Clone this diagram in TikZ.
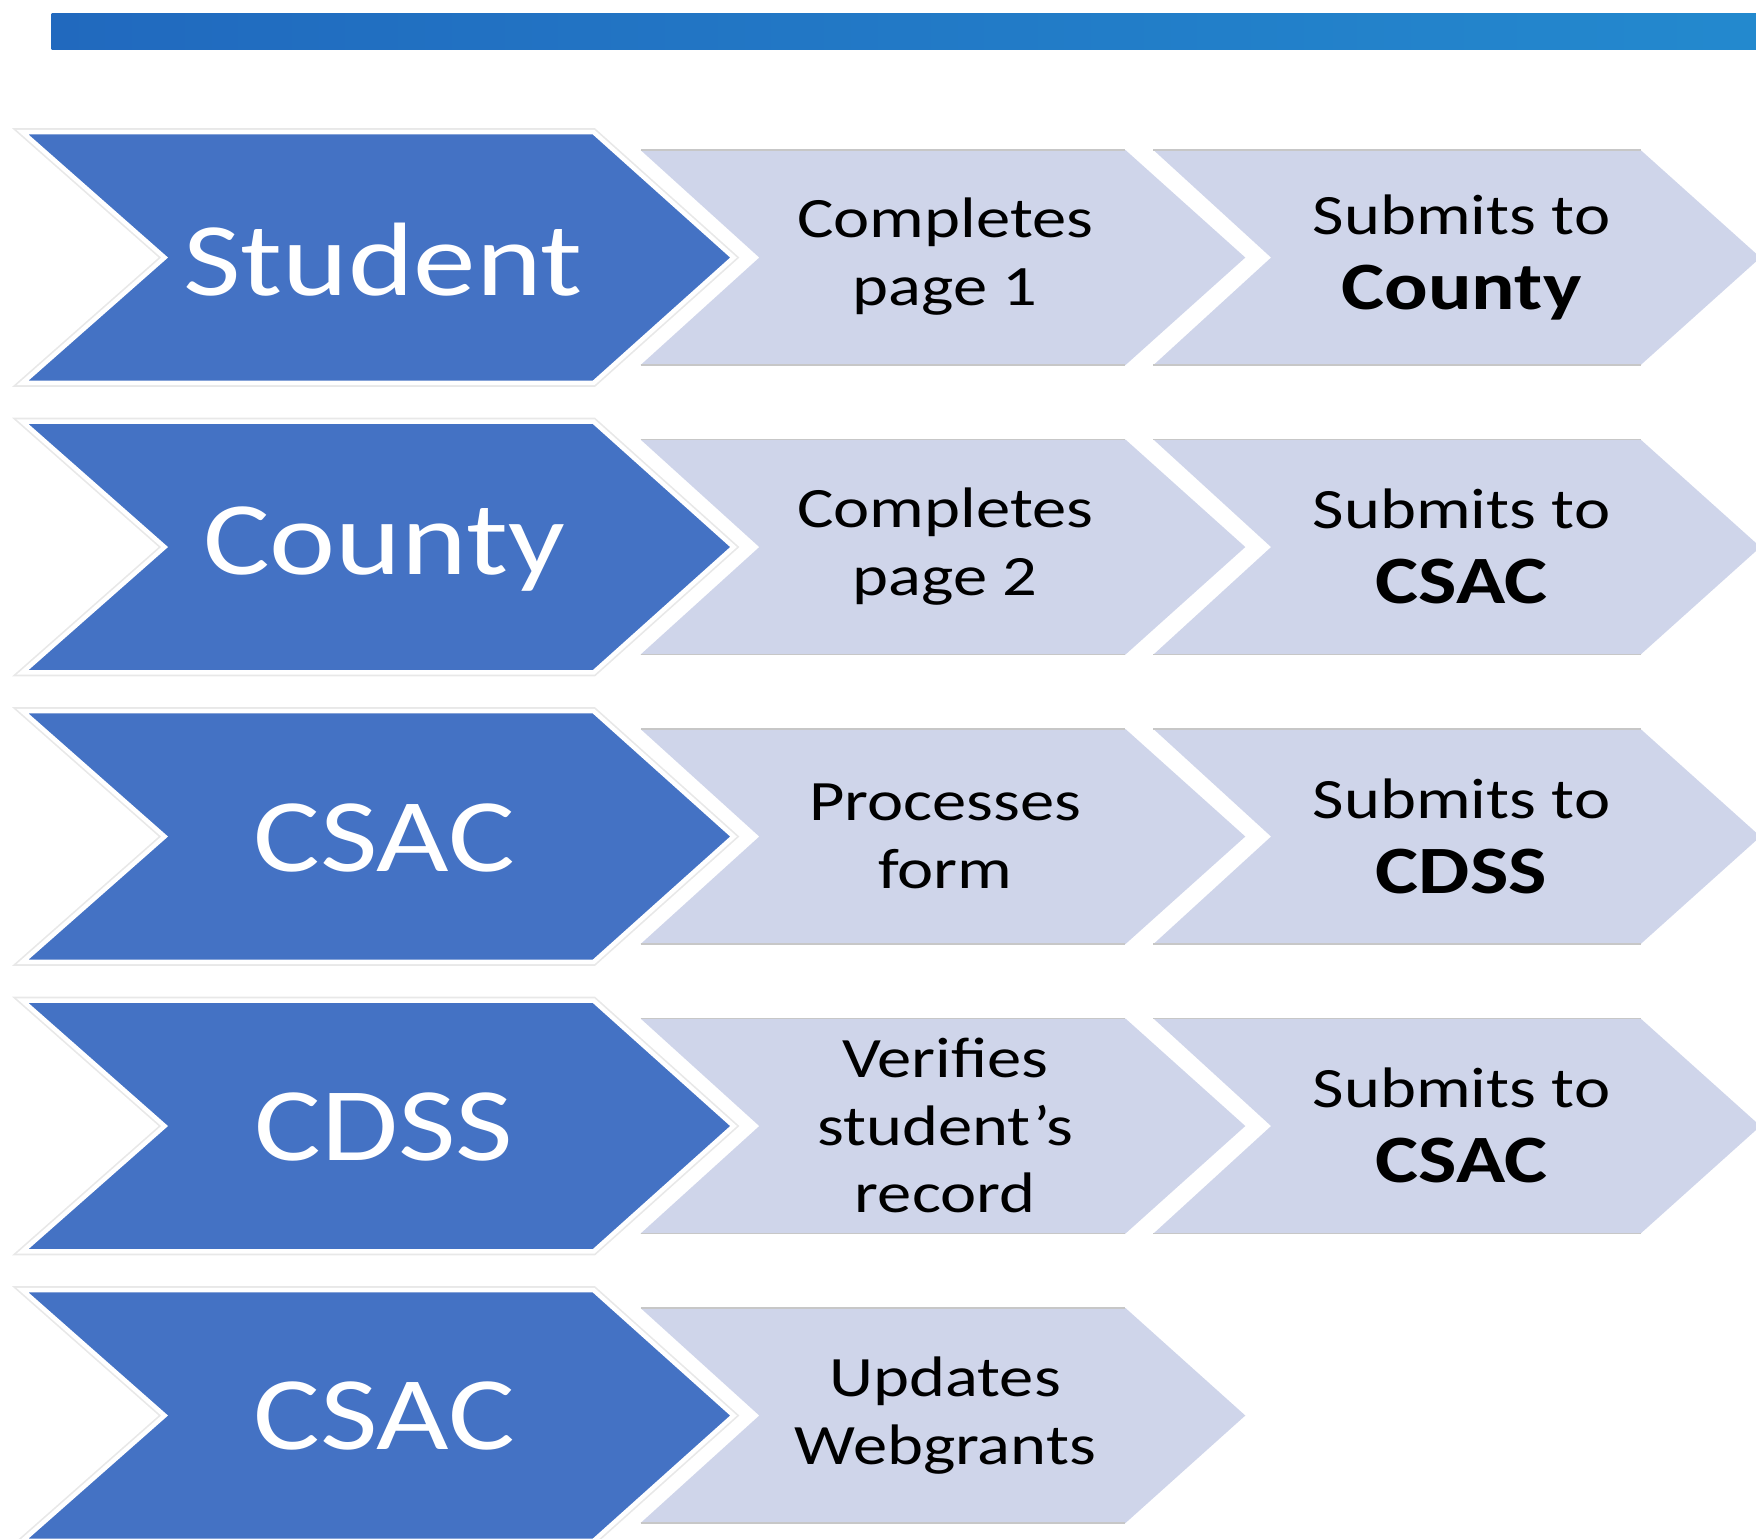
\documentclass[tikz,border=0pt]{standalone}
\usepackage{fontspec}
\setmainfont{Carlito}[FakeStretch=1.2]
\definecolor{darkb}{HTML}{4472C4}
\definecolor{lightb}{HTML}{CFD5EA}
\definecolor{barL}{RGB}{33,105,190}
\definecolor{barR}{RGB}{35,137,206}
\tikzset{
  darkshape/.style={fill=darkb, draw=white, line width=4*0.01cm, line join=miter},
  darkglow/.style={draw=black!9, line width=7*0.01cm, line join=miter},
  lightshape/.style={fill=lightb},
  lightedge/.style={draw=black!22, line width=0.4pt},
  bigtxt/.style={text=white, font=\fontsize{26.5}{30}\selectfont, inner sep=0pt},
  smalltxt/.style={text=black, font=\fontsize{14.5}{17.1}\selectfont, align=center, inner sep=0pt},
}
\newcommand{\subto}[1]{Submits to\\[2pt]{\fontsize{17.2}{19}\selectfont\bfseries #1}}
\begin{document}
\begin{tikzpicture}[x=0.01cm, y=-0.01cm]
\useasboundingbox (0,0) rectangle (1568,1374);
\begin{scope}
\clip (0,0) rectangle (1568,1374);
% top bar
\shade[left color=barL, right color=barR] (46,12) rectangle (1568,44);
% rows
\foreach \k in {0,...,4} {
  \begin{scope}[yshift={-\k*258.5*0.01cm}]
    % light chevron 1
    \path[lightshape] (572,134) -- (1005,134) -- (1112,230) -- (1005,326) -- (572,326) -- (678,230) -- cycle;
    \draw[lightedge] (572,134) -- (1005,134);
    \draw[lightedge] (572,326) -- (1005,326);
    % dark chevron
    \path[darkglow] (20,118) -- (530,118) -- (655,230) -- (530,342) -- (20,342) -- (147,230) -- cycle;
    \path[darkshape] (20,118) -- (530,118) -- (655,230) -- (530,342) -- (20,342) -- (147,230) -- cycle;
  \end{scope}
}
\foreach \k in {0,...,3} {
  \begin{scope}[yshift={-\k*258.5*0.01cm}]
    \path[lightshape] (1030,134) -- (1465,134) -- (1572,230) -- (1465,326) -- (1030,326) -- (1135,230) -- cycle;
    \draw[lightedge] (1030,134) -- (1465,134);
    \draw[lightedge] (1030,326) -- (1465,326);
  \end{scope}
}
\end{scope}
% texts
\node[bigtxt] (a1) at (342,232) {Student};
\node[bigtxt] (a2) at (343,490) {County};
\node[bigtxt] (a3) at (343,748) {CSAC};
\node[bigtxt] (a4) at (343,1006) {CDSS};
\node[bigtxt] (a5) at (343,1264) {CSAC};
\node[smalltxt] (b1) at (844,229) {Completes\\page 1};
\node[smalltxt] (b2) at (844,488) {Completes\\page 2};
\node[smalltxt] (b3) at (844,747) {Processes\\form};
\node[smalltxt] (b4) at (844,1005) {Verifies\\student’s\\record};
\node[smalltxt] (b5) at (844,1264) {Updates\\Webgrants};
\node[smalltxt] (c1) at (1305,230) {\subto{County}};
\node[smalltxt] (c2) at (1305,488) {\subto{CSAC}};
\node[smalltxt] (c3) at (1305,747) {\subto{CDSS}};
\node[smalltxt] (c4) at (1305,1005) {\subto{CSAC}};
\end{tikzpicture}
\end{document}
